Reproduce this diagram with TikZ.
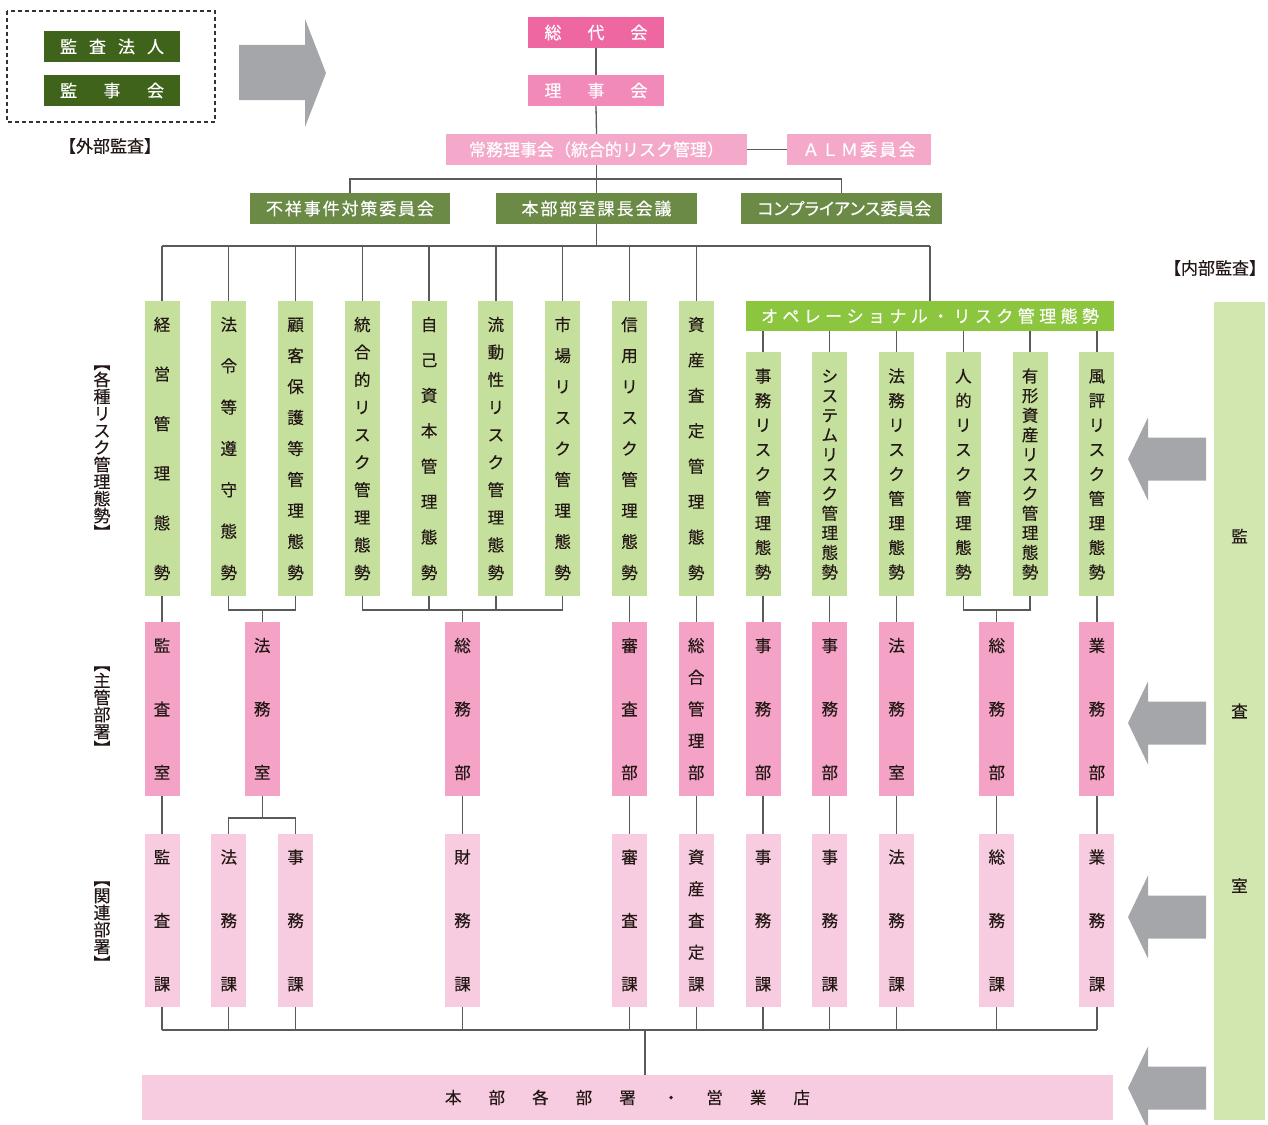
\documentclass[tikz,border=0pt]{standalone}
\usepackage{fontspec}
\usepackage{graphicx}
\setmainfont{Noto Sans CJK JP}[FakeBold=0.3]
\usetikzlibrary{backgrounds}
\definecolor{dgreen}{HTML}{3F631B}
\definecolor{mgreen}{HTML}{6A8A46}
\definecolor{ogreen}{HTML}{8CC63F}
\definecolor{lgreen}{HTML}{C5DF9C}
\definecolor{agreen}{HTML}{D2E6B0}
\definecolor{pinkA}{HTML}{EE67A1}
\definecolor{pinkB}{HTML}{F28AB9}
\definecolor{pinkC}{HTML}{F4A9CB}
\definecolor{tpink}{HTML}{F4A2C6}
\definecolor{lpink}{HTML}{F8CCE0}
\definecolor{agray}{HTML}{A5A6AA}
\definecolor{ink}{HTML}{231815}
\definecolor{linec}{HTML}{5A5A5A}
\makeatletter
\def\vsp@i#1#2{\hbox to\hsize{\hss\rule[-0.12em]{0pt}{1em}\smash{#1}\hss}\ifx\relax#2\else\vfill\expandafter\vsp@i\expandafter#2\fi}
\newcommand\vspread[2]{\parbox[c][#1][s]{2em}{\offinterlineskip\vsp@i#2\relax}}
\def\hsp@i#1#2{#1\ifx\relax#2\else\hfill\expandafter\hsp@i\expandafter#2\fi}
\newcommand\hspread[2]{\hbox to #1{\hsp@i#2\relax}}
\def\vl@i#1#2{\hbox to 1em{\hss\rule[-0.12em]{0pt}{1em}\smash{#1}\hss}\ifx\relax#2\else\expandafter\vl@i\expandafter#2\fi}
\newcommand\vlab[1]{\vbox{\offinterlineskip\vl@i#1\relax}}
\makeatother
\newcommand\lbk{\rotatebox[origin=c]{-90}{【}}
\newcommand\rbk{\rotatebox[origin=c]{-90}{】}}
\begin{document}
\begin{tikzpicture}[x=1pt,y=-1pt,
  font=\fontsize{16.5}{19}\selectfont,
  hbx/.style={inner sep=0pt, outer sep=0pt, minimum height=31pt, text=white, font=\fontsize{17}{20}\selectfont},
  col/.style={fill=lgreen, text=ink, inner sep=0pt, outer sep=0pt, minimum width=35pt, minimum height=295pt},
  subcol/.style={fill=lgreen, text=ink, inner sep=0pt, outer sep=0pt, minimum width=35pt, minimum height=244pt},
  tiertwo/.style={fill=tpink, text=ink, inner sep=0pt, outer sep=0pt, minimum width=35pt, minimum height=174pt},
  tierthree/.style={fill=lpink, text=ink, inner sep=0pt, outer sep=0pt, minimum width=35pt, minimum height=173pt},
  lbl/.style={text=ink, inner sep=0pt, font=\fontsize{17}{20}\selectfont},
  link/.style={draw=linec, line width=1.3pt},
  garrow/.style={fill=agray}]
\useasboundingbox (0,0) rectangle (1268,1124);

% external audit
\draw[draw=black!80, line width=1.4pt, dash pattern=on 4pt off 3pt] (7,11) rectangle (215,122);
\node[hbx, fill=dgreen, minimum width=136pt] (ex1) at (112,46.5) {\hspread{104pt}{監査法人}};
\node[hbx, fill=dgreen, minimum width=136pt] (ex2) at (112,90.5) {\hspread{104pt}{監事会}};
\node[lbl] (exl) at (110,146) {【外部監査】};
\fill[garrow] (239,45) -- (305,45) -- (305,19) -- (326,73) -- (305,127) -- (305,100) -- (239,100) -- cycle;

% top hierarchy
\node[hbx, fill=pinkA, minimum width=136pt] (gy) at (596,32.5) {\hspread{103pt}{総代会}};
\node[hbx, fill=pinkB, minimum width=136pt] (rj) at (596,90.5) {\hspread{103pt}{理事会}};
\node[hbx, fill=pinkC, minimum width=301pt] (jm) at (596.5,149.5) {常務理事会（統合的リスク管理）};
\node[hbx, fill=pinkC, minimum width=144pt] (alm) at (859,149.5) {\hspread{113pt}{ＡＬＭ委員会}};
\node[hbx, fill=mgreen, minimum width=200pt] (fs) at (350,208.5) {\hspread{168pt}{不祥事件対策委員会}};
\node[hbx, fill=mgreen, minimum width=201pt] (hb) at (596.5,208.5) {\hspread{150pt}{本部部室課長会議}};
\node[hbx, fill=mgreen, minimum width=201pt] (cp) at (841.5,208.5) {\addfontfeatures{RawFeature=+palt}\hspread{168pt}{コンプライアンス委員会}};
\node[hbx, fill=ogreen, minimum width=368pt, minimum height=30pt] (op) at (930,316) {\hspread{338pt}{オペレーショナル・リスク管理態勢}};

% tier 1
\node[col] (c1) at (162,448.5) {\vspread{262.5pt}{経営管理態勢}};
\node[col] (c2) at (228.8,448.5) {\vspread{262.5pt}{法令等遵守態勢}};
\node[col] (c3) at (295.6,448.5) {\vspread{262.5pt}{顧客保護等管理態勢}};
\node[col] (c4) at (362.3,448.5) {\vspread{262.5pt}{統合的リスク管理態勢}};
\node[col] (c5) at (429.1,448.5) {\vspread{262.5pt}{自己資本管理態勢}};
\node[col] (c6) at (495.9,448.5) {\vspread{262.5pt}{流動性リスク管理態勢}};
\node[col] (c7) at (562.7,448.5) {\vspread{262.5pt}{市場リスク管理態勢}};
\node[col] (c8) at (629.5,448.5) {\vspread{262.5pt}{信用リスク管理態勢}};
\node[col] (c9) at (696.2,448.5) {\vspread{262.5pt}{資産査定管理態勢}};
\node[subcol] (s1) at (763,474) {\vspread{210.5pt}{事務リスク管理態勢}};
\node[subcol] (s2) at (829.8,474) {\vspread{210.5pt}{システムリスク管理態勢}};
\node[subcol] (s3) at (896.6,474) {\vspread{210.5pt}{法務リスク管理態勢}};
\node[subcol] (s4) at (963.4,474) {\vspread{210.5pt}{人的リスク管理態勢}};
\node[subcol] (s5) at (1030.1,474) {\vspread{210.5pt}{有形資産リスク管理態勢}};
\node[subcol] (s6) at (1096.9,474) {\vspread{210.5pt}{風評リスク管理態勢}};

% tier 2
\node[tiertwo] (ka) at (162,709) {\vspread{141.5pt}{監査室}};
\node[tiertwo] (hm) at (262.2,709) {\vspread{141.5pt}{法務室}};
\node[tiertwo] (sm) at (462.5,709) {\vspread{141.5pt}{総務部}};
\node[tiertwo] (sn) at (629.5,709) {\vspread{141.5pt}{審査部}};
\node[tiertwo] (sk) at (696.2,709) {\vspread{141.5pt}{総合管理部}};
\node[tiertwo] (jA) at (763,709) {\vspread{141.5pt}{事務部}};
\node[tiertwo] (jB) at (829.8,709) {\vspread{141.5pt}{事務部}};
\node[tiertwo] (hs) at (896.6,709) {\vspread{141.5pt}{法務室}};
\node[tiertwo] (smb) at (996.8,709) {\vspread{141.5pt}{総務部}};
\node[tiertwo] (gm) at (1096.9,709) {\vspread{141.5pt}{業務部}};

% tier 3
\node[tierthree] (u1) at (162,920.5) {\vspread{141.5pt}{監査課}};
\node[tierthree] (u2) at (228.8,920.5) {\vspread{141.5pt}{法務課}};
\node[tierthree] (u3) at (295.6,920.5) {\vspread{141.5pt}{事務課}};
\node[tierthree] (u4) at (462.5,920.5) {\vspread{141.5pt}{財務課}};
\node[tierthree] (u5) at (629.5,920.5) {\vspread{141.5pt}{審査課}};
\node[tierthree] (u6) at (696.2,920.5) {\vspread{141.5pt}{資産査定課}};
\node[tierthree] (u7) at (763,920.5) {\vspread{141.5pt}{事務課}};
\node[tierthree] (u8) at (829.8,920.5) {\vspread{141.5pt}{事務課}};
\node[tierthree] (u9) at (896.6,920.5) {\vspread{141.5pt}{法務課}};
\node[tierthree] (u10) at (996.8,920.5) {\vspread{141.5pt}{総務課}};
\node[tierthree] (u11) at (1096.9,920.5) {\vspread{141.5pt}{業務課}};

% bottom and audit
\node[fill=lpink, text=ink, inner sep=0pt, minimum width=971pt, minimum height=45pt] (bt) at (627.5,1097.5) {\hspread{365pt}{本部各部署・営業店}};
\node[fill=agreen, text=ink, inner sep=0pt, minimum width=51pt, minimum height=818pt] (au) at (1239.5,711) {\vspread{364pt}{監査室}};
\node[lbl] (inl) at (1215,268) {【内部監査】};
\node[lbl] (lA) at (102,447.5) {\vlab{\lbk 各種リスク管理態勢\rbk}};
\node[lbl] (lB) at (102,706) {\vlab{\lbk 主管部署\rbk}};
\node[lbl] (lC) at (102,921) {\vlab{\lbk 関連部署\rbk}};

% internal audit arrows
\foreach \yc in {459,723,917,1088}{
  \fill[garrow] (1206,\yc-21.5) -- (1148,\yc-21.5) -- (1148,\yc-41.5) -- (1128,\yc) -- (1148,\yc+41.5) -- (1148,\yc+21.5) -- (1206,\yc+21.5) -- cycle;
}

% connectors
\coordinate (cl) at (0,179);
\coordinate (hl) at (0,246);
\coordinate (b1) at (0,610);
\coordinate (b2) at (0,818);
\coordinate (b3) at (0,1030);
\coordinate (bj) at (645,1030);
\begin{pgfonlayer}{background}
\draw[link] (gy.south) -- (rj.north);
\draw[link] (rj.south) -- (jm.north);
\draw[link] (jm.east) -- (alm.west);
\draw[link] (jm.south) -- (jm.south |- hl);
\draw[link] (fs.north) -- (fs.north |- cl) -- (cp.north |- cl) -- (cp.north);
\draw[link] (c1.north |- hl) -- (op.north |- hl);
\foreach \n in {c1,c2,c3,c4,c5,c6,c7,c8,c9,op}{\draw[link] (\n.north) -- (\n.north |- hl);}
\foreach \n in {s1,s2,s3,s4,s5,s6}{\draw[link] (\n.north) -- (\n.north |- op.south);}
% tier1 -> tier2
\draw[link] (c1.south) -- (ka.north);
\draw[link] (c2.south) -- (c2.south |- b1) -- (c3.south |- b1) -- (c3.south);
\draw[link] (hm.north) -- (hm.north |- b1);
\draw[link] (c4.south) -- (c4.south |- b1) -- (c7.south |- b1) -- (c7.south);
\draw[link] (c5.south) -- (c5.south |- b1);
\draw[link] (c6.south) -- (c6.south |- b1);
\draw[link] (sm.north) -- (sm.north |- b1);
\draw[link] (c8.south) -- (sn.north);
\draw[link] (c9.south) -- (sk.north);
\draw[link] (s1.south) -- (jA.north);
\draw[link] (s2.south) -- (jB.north);
\draw[link] (s3.south) -- (hs.north);
\draw[link] (s4.south) -- (s4.south |- b1) -- (s5.south |- b1) -- (s5.south);
\draw[link] (smb.north) -- (smb.north |- b1);
\draw[link] (s6.south) -- (gm.north);
% tier2 -> tier3
\draw[link] (ka.south) -- (u1.north);
\draw[link] (hm.south) -- (hm.south |- b2);
\draw[link] (u2.north) -- (u2.north |- b2) -- (u3.north |- b2) -- (u3.north);
\draw[link] (sm.south) -- (u4.north);
\draw[link] (sn.south) -- (u5.north);
\draw[link] (sk.south) -- (u6.north);
\draw[link] (jA.south) -- (u7.north);
\draw[link] (jB.south) -- (u8.north);
\draw[link] (hs.south) -- (u9.north);
\draw[link] (smb.south) -- (u10.north);
\draw[link] (gm.south) -- (u11.north);
% tier3 -> bottom
\foreach \n in {u1,u2,u3,u4,u5,u6,u7,u8,u9,u10,u11}{\draw[link] (\n.south) -- (\n.south |- b3);}
\draw[link] (u1.south |- b3) -- (u11.south |- b3);
\draw[link] (bj) -- (bj |- bt.north);
\end{pgfonlayer}
\end{tikzpicture}
\end{document}
